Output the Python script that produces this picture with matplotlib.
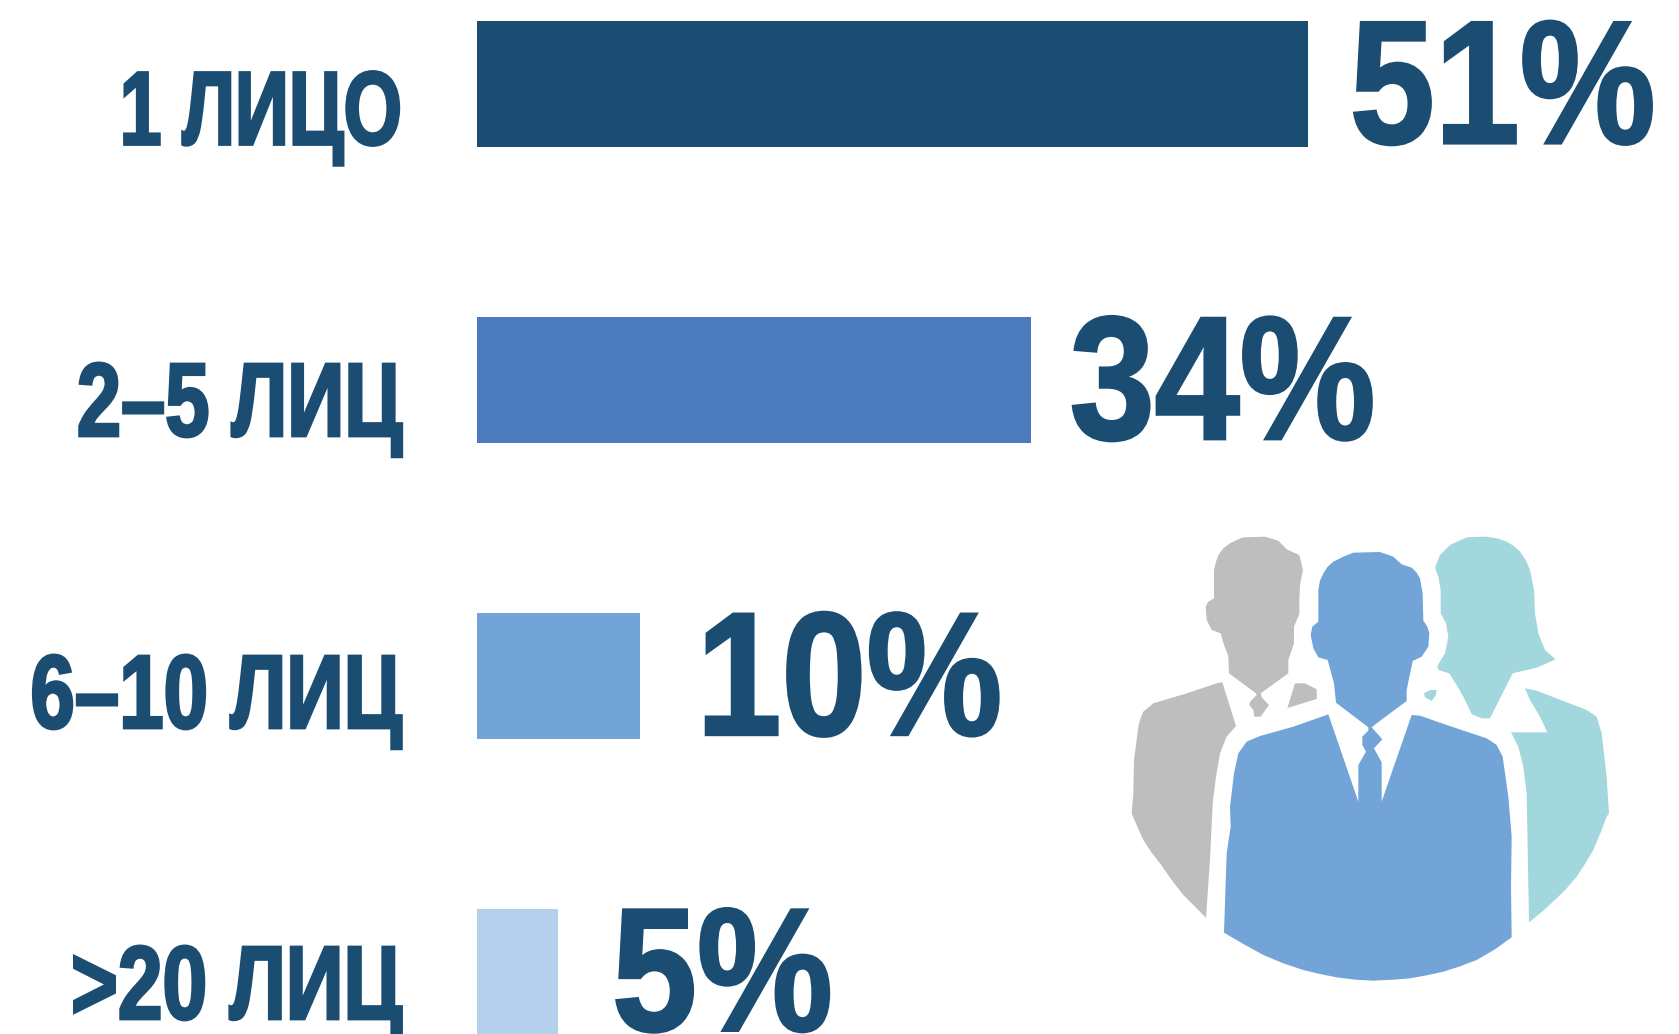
import matplotlib
matplotlib.use("Agg")
from matplotlib import pyplot as plt
from matplotlib.patches import Polygon
from matplotlib.transforms import Affine2D
import matplotlib.patheffects as pe

labels = ["1 ЛИЦО", "2–5 ЛИЦ", "6–10 ЛИЦ", ">20 ЛИЦ"]
values = [51, 34, 10, 5]
value_text = ["51%", "34%", "10%", "5%"]
bar_colors = ["#1B4D73", "#4C7BBD", "#72A4D8", "#B5D0EC"]
text_color = "#1B4D73"

W, H = 1679, 1034
FONT = ["Liberation Sans", "DejaVu Sans"]

# outlines of the people icon, in pixels of a 1560x1440 box
grey_head = [(312,235),(312,150),(318,125),(325,105),(340,85),(360,70),(380,60),(400,52),(465,50),(505,62),(530,88),(568,105),(579,150),(570,195),
             (568,240),(568,282),(552,320),(552,370),(535,420),(535,460),(452,520),(455,532),(477,555),(452,590),(433,590),
             (430,570),(418,555),(420,545),(440,525),(438,520),(357,460),(355,408),(342,375),(332,340),(305,330),(290,300),
             (287,260),(295,245)]
grey_body = [(337,487),(378,618),(350,650),(330,700),(318,770),(308,850),(300,1020),(288,1193),(250,1155),(220,1125),(185,1080),
             (150,1030),(125,998),(100,960),(82,920),(65,880),(70,820),(72,720),(85,620),(90,600),(100,575),(130,550),(230,520),(320,490)]
grey_bit = [(555,490),(585,490),(620,508),(620,537),(532,564)]
blue_man = [(625,305),(625,210),(630,182),(640,160),(653,140),(670,125),(700,110),(730,98),(810,96),(850,110),(875,133),(905,143),(920,158),(930,175),(938,220),
            (940,302),(952,320),(958,340),(955,380),(935,410),(908,423),(890,510),(890,543),(800,610),(785,622),(817,658),(792,685),
            (815,727),(815,845),(905,585),(930,587),(1010,615),(1130,655),(1160,675),(1178,710),(1195,830),(1205,950),
            (1203,1100),(1205,1252),(1155,1288),(1100,1320),(1050,1339),(1000,1355),(950,1366),(900,1375),(850,1379),(790,1382),
            (735,1379),(680,1372),(630,1362),(580,1350),(520,1330),(460,1305),(400,1272),
            (342,1238),(350,1000),(362,920),(360,860),(372,760),(385,700),(410,665),(450,648),(550,620),(655,583),(745,845),
            (745,735),(768,695),(757,675),(757,650),(775,632),(775,622),(678,548),(672,490),(653,420),(625,412),(610,385),
            (602,345),(607,320)]
teal_head = [(975,143),(990,105),(1020,75),(1070,52),(1130,50),(1165,56),(1190,65),(1212,78),(1230,95),(1248,122),(1260,150),(1272,210),(1275,280),
             (1285,340),(1305,390),(1337,418),(1280,443),(1208,460),(1140,595),(1115,595),(1085,582),(1060,530),(1040,495),
             (1018,460),(985,450),(982,438),(1005,400),(1015,350),(1008,310),(992,280),(992,210),(985,170)]
teal_bit = [(942,520),(960,510),(980,510),(978,525),(965,543),(945,532)]
teal_body = [(1245,505),(1280,512),(1360,543),(1430,570),(1460,590),(1475,640),(1490,770),(1497,880),(1490,890),(1475,930),(1450,990),
             (1425,1032),(1400,1070),(1370,1105),(1340,1135),(1300,1172),(1257,1207),(1250,820),(1240,740),(1225,680),(1203,637),(1312,637),(1290,590),(1260,540)]


class TallStroke(pe.AbstractPathEffect):
    # stretch the text up from its baseline and thicken it, no narrow bold font is installed
    def __init__(self, sy, lw):
        super().__init__()
        self.sy = sy
        self.lw = lw

    def draw_path(self, renderer, gc, tpath, affine, rgbFace=None):
        y0 = affine.get_matrix()[1, 2]
        tall = affine + Affine2D().translate(0, -y0).scale(1, self.sy).translate(0, y0)
        gc0 = renderer.new_gc()
        gc0.copy_properties(gc)
        gc0.set_linewidth(self.lw)
        gc0.set_joinstyle("miter")
        gc0.set_foreground(text_color)
        renderer.draw_path(gc0, tpath, tall, rgbFace)
        gc0.restore()


fig = plt.figure(figsize=(W / 100, H / 100), dpi=100, facecolor="white")

# main axes fills the figure, scaled so that one percent is 16.3 px and one row is 295.8 px
ax = fig.add_axes([0, 0, 1, 1])
ax.set_xlim(-476.5 / 16.3, (W - 476.5) / 16.3)
ax.set_ylim((H - 84.2) / 295.8, -84.2 / 295.8)
ax.axis("off")

rows = list(range(len(values)))
ax.barh(rows, values, height=126 / 295.8, color=bar_colors)

# label baselines, label sizes and value text offsets, in pixels from the bar
label_base = [144.5, 436, 728, 1019]
label_size = [54, 57.2, 57.5, 57.8]
value_dx = [42, 39, 57, 54]
for r, lab, val, txt, ly, fs, dx in zip(rows, labels, values, value_text, label_base, label_size, value_dx):
    ax.annotate(lab, xy=(402 / W, 1 - ly / H), xycoords="figure fraction", ha="right", va="baseline",
                fontsize=fs, fontweight="bold", family=FONT, color=text_color,
                path_effects=[TallStroke(75.35 / fs, 2)])
    # last value sits on the lower edge of the figure, so its anchor is outside the axes
    ax.annotate(txt, xy=(val, r + 63 / 295.8), xytext=(dx, 4), textcoords="offset pixels", ha="left", va="baseline",
                fontsize=110, fontweight="bold", family=FONT, color=text_color, annotation_clip=False,
                path_effects=[TallStroke(1.15, 2)])

icon = fig.add_axes([1110 / W, 1 - 1000 / H, 520 / W, 480 / H])
icon.set_xlim(0, 1560)
icon.set_ylim(1440, 0)
icon.axis("off")
for pts, col in [(grey_head, "#BEBEBE"), (grey_body, "#BEBEBE"), (grey_bit, "#BEBEBE"),
                 (teal_head, "#A3D7DE"), (teal_bit, "#A3D7DE"), (teal_body, "#A3D7DE"),
                 (blue_man, "#72A4D8")]:
    icon.add_patch(Polygon(pts, closed=True, facecolor=col, edgecolor="none"))

fig.savefig("out.png", dpi=100)
